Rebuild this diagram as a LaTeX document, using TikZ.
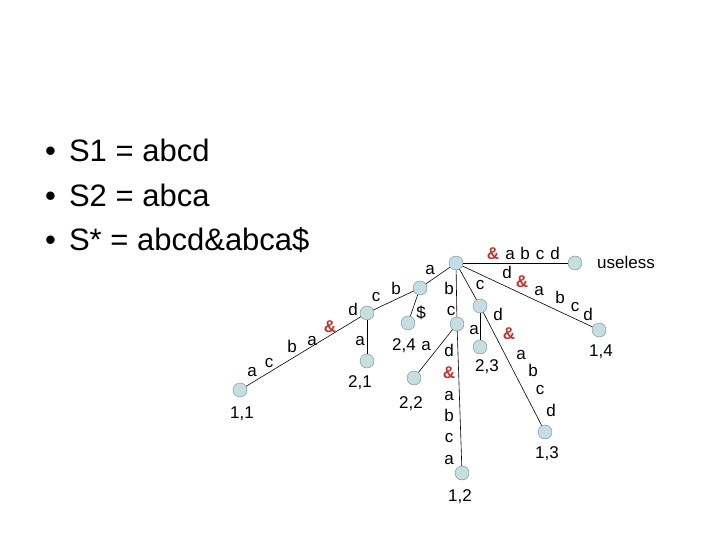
\documentclass[tikz,border=0pt]{standalone}
\usepackage{fontspec}
\setmainfont{Liberation Sans}
\definecolor{leafcol}{HTML}{C4DEE2}
\definecolor{leafline}{HTML}{6F8A90}
\definecolor{sepcol}{HTML}{C8302A}
\begin{document}
\begin{tikzpicture}[
    x=1pt, y=-1pt,
    font=\fontsize{17}{19}\selectfont,
    vtx/.style={circle, draw=leafline, fill=leafcol, inner sep=0pt, minimum size=14pt},
    lbl/.style={inner sep=0pt, text height=1.6ex, text depth=0pt, anchor=center},
    sep/.style={lbl, text=sepcol, font=\fontsize{17}{19}\selectfont\bfseries},
    bullet/.style={anchor=west, inner sep=0pt, font=\fontsize{31}{34}\selectfont},
    edge/.style={draw=black, line width=0.6pt}
]
\useasboundingbox (0,0) rectangle (720,540);

% --- Strings ---
\node (s1) at (45, 150) [bullet] {\textbullet\hspace{13pt}S1 = abcd};
\node (s2) at (45, 195) [bullet] {\textbullet\hspace{13pt}S2 = abca};
\node (s3) at (45, 240) [bullet] {\textbullet\hspace{13pt}S* = abcd\&abca\$};

% --- Tree vertices ---
\node (root) at (456, 263) [vtx] {};
\node (useless) at (575, 263) [vtx] {};
\node (leaf14) at (599, 330) [vtx] {};
\node (nc) at (480, 306) [vtx] {};
\node (leaf23) at (480, 347) [vtx] {};
\node (leaf13) at (545, 432) [vtx] {};
\node (nbc) at (457, 324) [vtx] {};
\node (leaf12) at (462, 473) [vtx] {};
\node (leaf22) at (414, 378) [vtx] {};
\node (na) at (420, 288) [vtx] {};
\node (leaf24) at (408, 323) [vtx] {};
\node (nd) at (367, 313) [vtx] {};
\node (leaf21) at (367, 361) [vtx] {};
\node (leaf11) at (240, 390) [vtx] {};

% --- Edges ---
\draw [edge] (root) -- (useless);
\draw [edge] (root) -- (leaf14);
\draw [edge] (root) -- (nc);
\draw [edge] (nc) -- (leaf23);
\draw [edge] (nc) -- (leaf13);
\draw [edge] (root) -- (nbc);
\draw [edge] (nbc) -- (leaf12);
\draw [edge] (nbc) -- (leaf22);
\draw [edge] (root) -- (na);
\draw [edge] (na) -- (leaf24);
\draw [edge] (na) -- (nd);
\draw [edge] (nd) -- (leaf21);
\draw [edge] (nd) -- (leaf11);

% --- Edge labels ---
% root -> useless
\node (u1) at (493, 255) [sep] {\&};
\node (u2) at (510, 255) [lbl] {a};
\node (u3) at (525, 255) [lbl] {b};
\node (u4) at (540, 255) [lbl] {c};
\node (u5) at (555, 255) [lbl] {d};
\node (uselesstxt) at (626, 264) [lbl] {useless};
% root -> 1,4
\node (f1) at (507, 274) [lbl] {d};
\node (f2) at (522, 283) [sep] {\&};
\node (f3) at (539, 291) [lbl] {a};
\node (f4) at (560, 299) [lbl] {b};
\node (f5) at (575, 307) [lbl] {c};
\node (f6) at (588, 316) [lbl] {d};
\node (t14) at (601, 352) [lbl] {1,4};
% root -> c -> 2,3 / 1,3
\node (c1) at (480, 285) [lbl] {c};
\node (c2) at (498, 316) [lbl] {d};
\node (c3) at (509, 335) [sep] {\&};
\node (c4) at (521, 355) [lbl] {a};
\node (c5) at (533, 372) [lbl] {b};
\node (c6) at (540, 390) [lbl] {c};
\node (c7) at (551, 412) [lbl] {d};
\node (t13) at (547, 454) [lbl] {1,3};
\node (c8) at (474, 330) [lbl] {a};
\node (t23) at (487, 367) [lbl] {2,3};
% root -> bc -> 1,2 / 2,2
\node (b1) at (449, 290) [lbl] {b};
\node (b2) at (451, 311) [lbl] {c};
\node (b3) at (449, 352) [lbl] {d};
\node (b4) at (449, 374) [sep] {\&};
\node (b5) at (449, 396) [lbl] {a};
\node (b6) at (449, 417) [lbl] {b};
\node (b7) at (449, 438) [lbl] {c};
\node (b8) at (449, 460) [lbl] {a};
\node (t12) at (460, 497) [lbl] {1,2};
\node (b9) at (426, 346) [lbl] {a};
\node (t22) at (411, 404) [lbl] {2,2};
% root -> a -> $ / d
\node (a1) at (430, 270) [lbl] {a};
\node (a2) at (421, 314) [lbl] {\$};
\node (t24) at (404, 346) [lbl] {2,4};
\node (a3) at (396, 290) [lbl] {b};
\node (a4) at (376, 297) [lbl] {c};
\node (a5) at (353, 311) [lbl] {d};
\node (a6) at (360, 341) [lbl] {a};
\node (t21) at (360, 383) [lbl] {2,1};
% d -> 1,1
\node (d1) at (330, 328) [sep] {\&};
\node (d2) at (312, 341) [lbl] {a};
\node (d3) at (292, 348) [lbl] {b};
\node (d4) at (269, 363) [lbl] {c};
\node (d5) at (252, 372) [lbl] {a};
\node (t11) at (242, 414) [lbl] {1,1};

\end{tikzpicture}
\end{document}
